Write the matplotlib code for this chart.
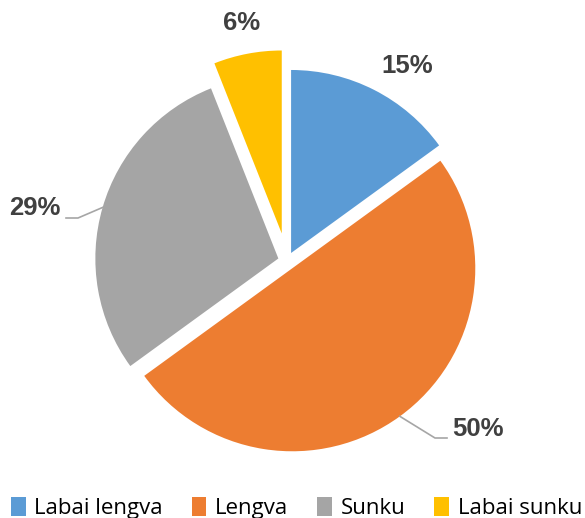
import numpy as np
import matplotlib.pyplot as plt

# data
categories = ['Labai lengva', 'Lengva', 'Sunku', 'Labai sunku']
shares = [15, 50, 29, 6]
colors = ['#5B9BD5', '#ED7D31', '#A5A5A5', '#FFC000']

W, H = 585, 518
fig = plt.figure(figsize=(W / 100, H / 100), dpi=100)
ax = fig.add_axes([0, 0, 1, 1])

center = (287, H - 261)
radius = 183
explode = [9, 9, 9, 28]

wedges, _ = ax.pie(shares, colors=colors, startangle=90, counterclock=False,
                   center=center, radius=radius, explode=explode,
                   wedgeprops=dict(linewidth=0))

ax.set_xlim(0, W)
ax.set_ylim(0, H)
ax.set_aspect('equal')
ax.axis('off')

# percent labels
label_pos = [(407, H - 66), (478, H - 429), (35, H - 208), (242, H - 23)]
for w, s, (lx, ly) in zip(wedges, shares, label_pos):
    ax.text(lx, ly, f'{s}%', ha='center', va='center', fontsize=18.5,
            fontweight='bold', color='#404040', family='Liberation Sans')

# leader lines for gray and orange slices
def arc_point(w):
    mid = np.deg2rad((w.theta1 + w.theta2) / 2)
    cx, cy = w.center
    return cx + w.r * np.cos(mid), cy + w.r * np.sin(mid)

sx, sy = arc_point(wedges[2])
ax.plot([sx, 78, 66], [sy, H - 218, H - 218], color='#A6A6A6', lw=1.2)
sx, sy = arc_point(wedges[1])
ax.plot([sx, 435, 447], [sy, H - 438, H - 438], color='#A6A6A6', lw=1.2)

fig.legend(wedges, categories, loc='lower center', bbox_to_anchor=(0.507, -0.002),
           ncol=4, frameon=False, prop={'family': 'Open Sans', 'size': 16},
           handlelength=0.65, handleheight=0.9, handletextpad=0.4,
           columnspacing=1.3, borderaxespad=0, borderpad=0)

fig.savefig('out.png', dpi=100)
